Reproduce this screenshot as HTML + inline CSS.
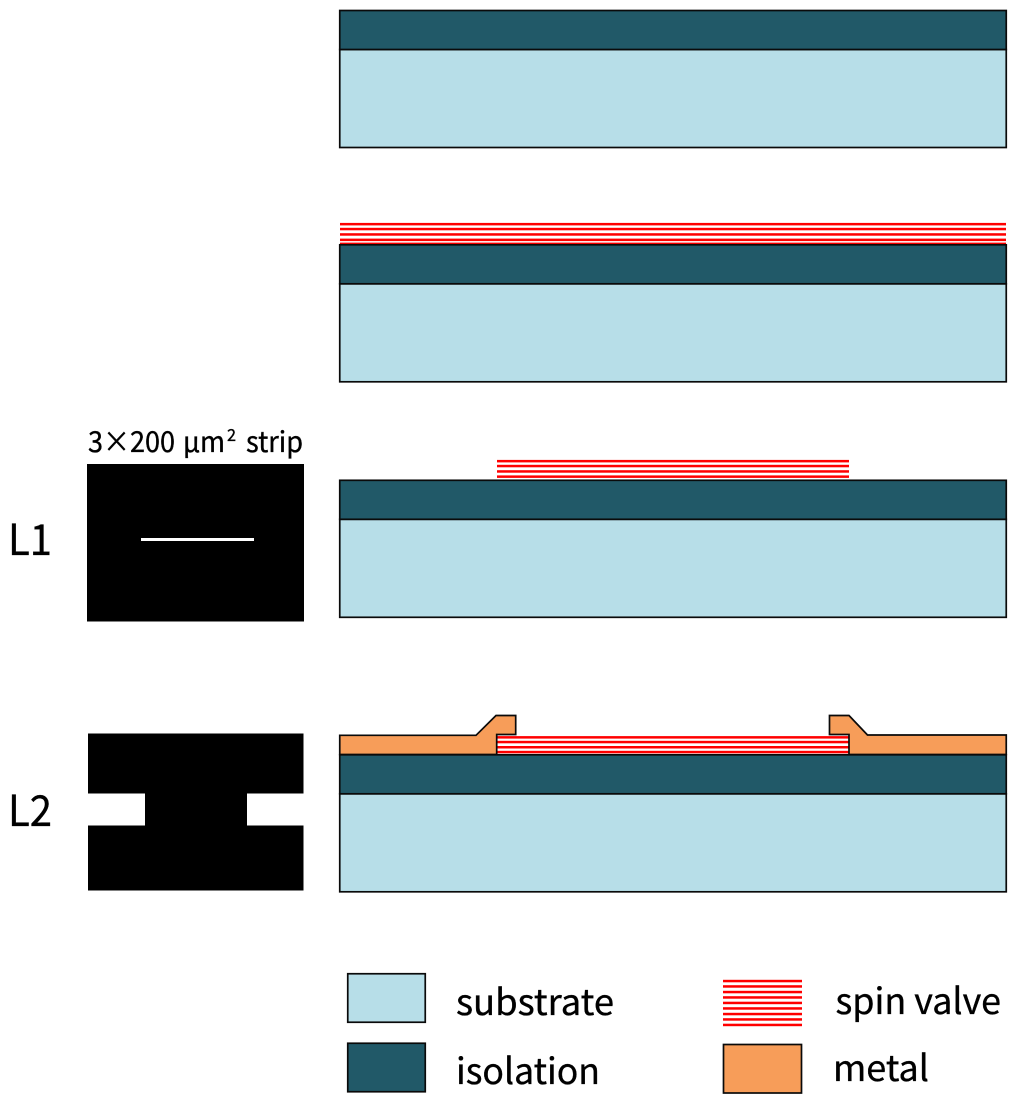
<!DOCTYPE html>
<html><head><meta charset="utf-8"><style>
html,body{margin:0;padding:0;background:#fff}
svg{display:block}
text{font-family:"Noto Sans CJK SC","Liberation Sans",sans-serif;fill:#000;stroke:#000;stroke-width:.35px}
</style></head><body>
<svg width="1024" height="1104" viewBox="0 0 1024 1104" xmlns="http://www.w3.org/2000/svg">
<defs>
<g id="stack">
<rect x="339.75" y="49.5" width="666.5" height="98" fill="#b7dee8" stroke="#0a0a0a" stroke-width="1.7"/>
<rect x="339.75" y="10.5" width="666.5" height="39" fill="#215968" stroke="#0a0a0a" stroke-width="1.7"/>
</g>
</defs>

<!-- spin valve full -->
<g fill="#f00">
<rect x="340" y="222.9" width="666" height="2.5"/>
<rect x="340" y="227.8" width="666" height="2.5"/>
<rect x="340" y="233.2" width="666" height="2.5"/>
<rect x="340" y="238.6" width="666" height="2.5"/>
<rect x="340" y="242.6" width="666" height="2"/>
</g>
<!-- spin valve L1 -->
<g fill="#f00">
<rect x="497" y="459.9" width="352" height="2.5"/>
<rect x="497" y="464.8" width="352" height="2.5"/>
<rect x="497" y="470.2" width="352" height="2.5"/>
<rect x="497" y="475.4" width="352" height="2.5"/>
</g>
<!-- spin valve L2 -->
<g fill="#f00">
<rect x="497" y="736.1" width="352" height="2.5"/>
<rect x="497" y="740.8" width="352" height="2.5"/>
<rect x="497" y="746" width="352" height="2.5"/>
<rect x="497" y="750.8" width="352" height="2.5"/>
</g>

<use href="#stack"/>
<use href="#stack" y="234.3"/>
<use href="#stack" y="469.8"/>
<use href="#stack" y="744.3"/>

<!-- metal -->
<path d="M339.75 735.3H476L496 715.5H515.7V734.5H496.7V754.5H339.75Z" fill="#f79d59" stroke="#0a0a0a" stroke-width="1.7"/>
<path d="M1006.25 735H867.5L849 715.5H829.5V734.5H849V754.5H1006.25Z" fill="#f79d59" stroke="#0a0a0a" stroke-width="1.7"/>

<!-- masks -->
<rect x="87" y="464" width="217" height="157.5" fill="#000"/>
<rect x="141" y="538" width="113" height="3" fill="#fff"/>
<path d="M88 733.5H303.5V793.5H247V825.5H303.5V890.5H88V825.5H145V793.5H88Z" fill="#000"/>

<!-- labels -->
<text x="88" y="452" font-size="29" textLength="87" lengthAdjust="spacingAndGlyphs">3×200</text>
<text x="183" y="452" font-size="29" textLength="42" lengthAdjust="spacingAndGlyphs">µm</text>
<text x="227" y="441" font-size="17" textLength="9" lengthAdjust="spacingAndGlyphs">2</text>
<text x="246" y="452" font-size="29" textLength="57" lengthAdjust="spacingAndGlyphs">strip</text>
<text x="8" y="555" font-size="43" textLength="44" lengthAdjust="spacingAndGlyphs">L1</text>
<text x="8" y="826" font-size="43" textLength="44" lengthAdjust="spacingAndGlyphs">L2</text>

<!-- legend -->
<rect x="347.75" y="973.75" width="77.5" height="48.5" fill="#b7dee8" stroke="#0a0a0a" stroke-width="1.7"/>
<rect x="347.75" y="1043.25" width="77.5" height="48.5" fill="#215968" stroke="#0a0a0a" stroke-width="1.7"/>
<text x="456" y="1015" font-size="36" textLength="158" lengthAdjust="spacingAndGlyphs">substrate</text>
<text x="456" y="1084" font-size="36" textLength="144" lengthAdjust="spacingAndGlyphs">isolation</text>
<g fill="#f00">
<rect x="723" y="979.8" width="79" height="2.5"/>
<rect x="723" y="985.2" width="79" height="2.5"/>
<rect x="723" y="990.8" width="79" height="2.5"/>
<rect x="723" y="996.2" width="79" height="2.5"/>
<rect x="723" y="1001.7" width="79" height="2.5"/>
<rect x="723" y="1007.2" width="79" height="2.5"/>
<rect x="723" y="1012.8" width="79" height="2.5"/>
<rect x="723" y="1018.2" width="79" height="2.5"/>
<rect x="723" y="1023.7" width="79" height="2.5"/>
</g>
<rect x="723.5" y="1044.5" width="78" height="48.5" fill="#f79d59" stroke="#0a0a0a" stroke-width="1.7"/>
<text x="835.5" y="1014" font-size="36" textLength="165.5" lengthAdjust="spacingAndGlyphs">spin valve</text>
<text x="833" y="1081" font-size="36" textLength="96" lengthAdjust="spacingAndGlyphs">metal</text>
</svg>
</body></html>
